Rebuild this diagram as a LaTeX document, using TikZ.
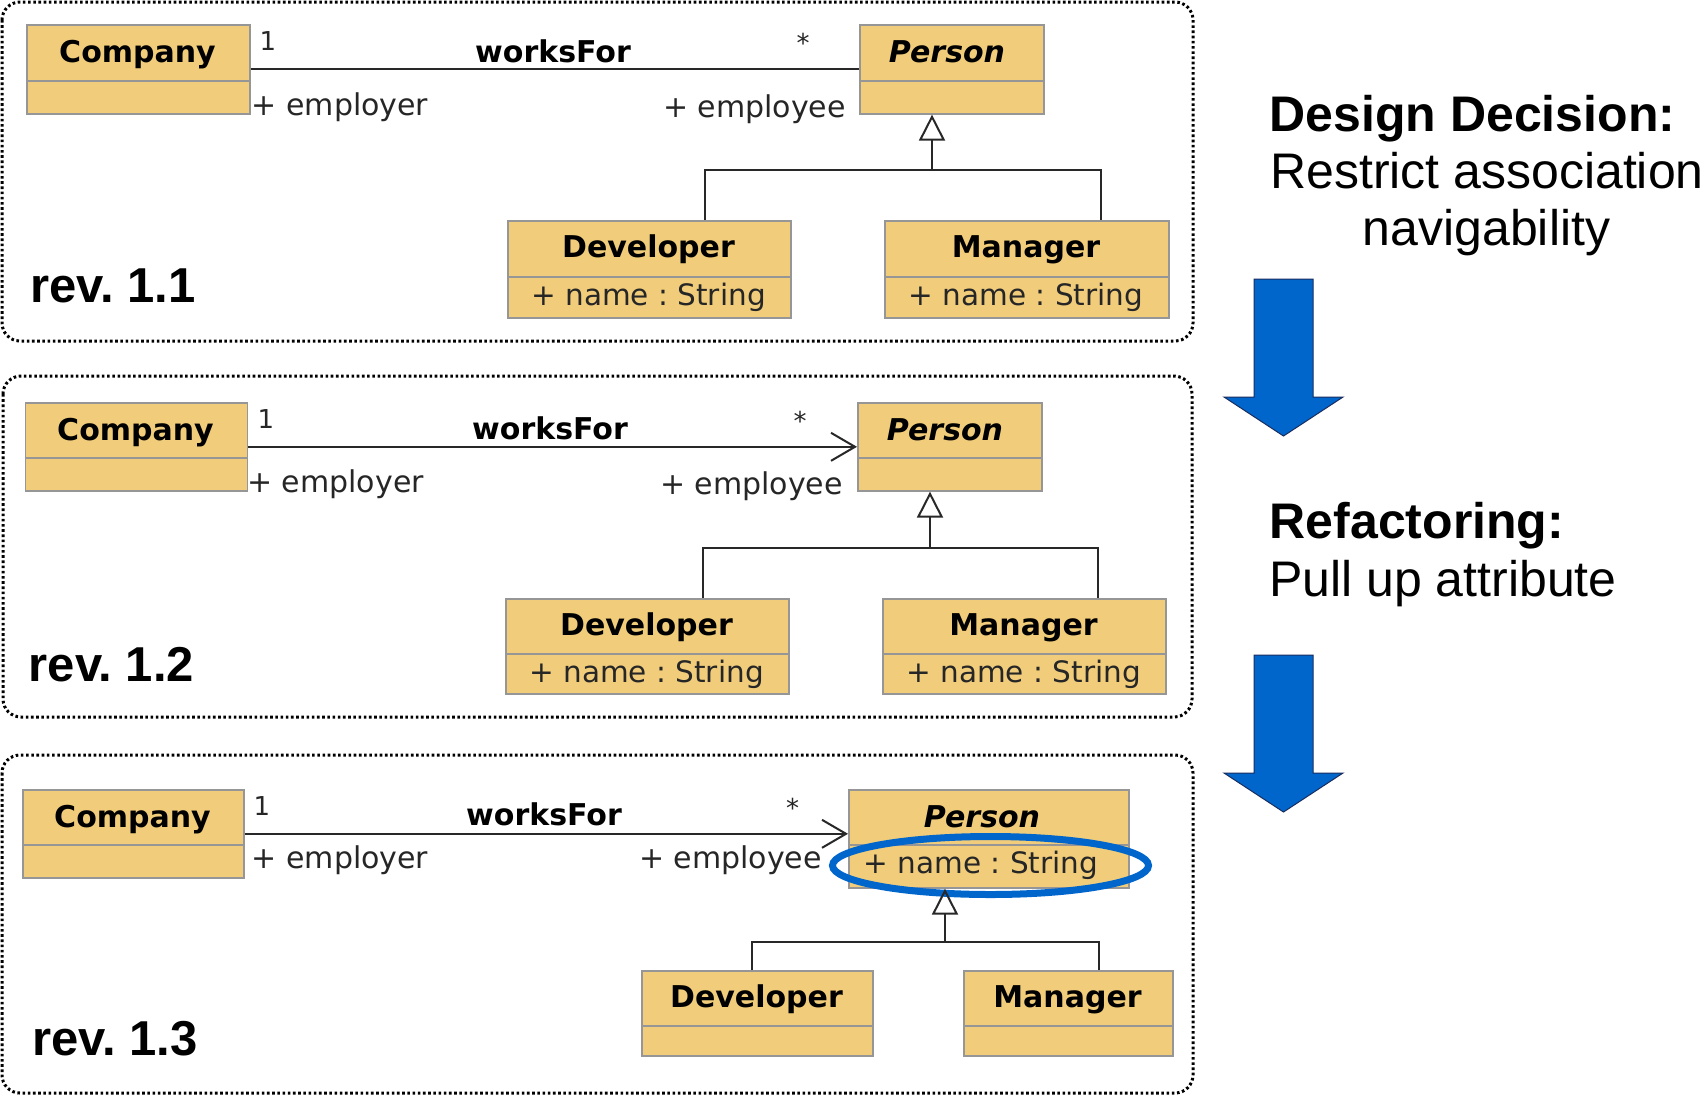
\documentclass[tikz,border=0pt]{standalone}
\usepackage{fontspec}
\setmainfont{Liberation Sans}
\newfontfamily\dvs{DejaVu Sans}
\usetikzlibrary{arrows.meta,shapes.geometric}
\definecolor{clsfill}{RGB}{240,204,123}
\definecolor{clsline}{RGB}{150,150,150}
\definecolor{umlline}{RGB}{40,40,40}
\definecolor{hlblue}{RGB}{0,102,204}
\definecolor{arrowline}{RGB}{25,45,95}
\frenchspacing
\begin{document}
\frenchspacing
\begin{tikzpicture}[x=1pt,y=-1pt,
  cls/.style={draw=clsline, fill=clsfill, line width=1.6pt, inner sep=0pt, anchor=north west},
  divider/.style={draw=clsline, line width=1.6pt},
  panel/.style={draw=black, line width=3pt, dash pattern=on 2.6pt off 2.6pt, rounded corners=18pt},
  cname/.style={anchor=base, font=\frenchspacing\dvs\bfseries\fontsize{30}{36}\selectfont, text=black, inner sep=0pt},
  pname/.style={anchor=base, font=\frenchspacing\dvs\bfseries\itshape\fontsize{30}{36}\selectfont, text=black, inner sep=0pt},
  attr/.style={anchor=base, font=\frenchspacing\dvs\fontsize{29.5}{34}\selectfont, text=black!85, inner sep=0pt},
  rolel/.style={anchor=base west, font=\frenchspacing\dvs\fontsize{30}{35}\selectfont, text=black!85, inner sep=0pt},
  roler/.style={anchor=base east, font=\frenchspacing\dvs\fontsize{30}{35}\selectfont, text=black!85, inner sep=0pt},
  mult/.style={anchor=base, font=\dvs\fontsize{26}{30}\selectfont, text=black!85, inner sep=0pt},
  assoc/.style={draw=umlline, line width=2pt},
  gen/.style={draw=umlline, line width=2pt},
  revlabel/.style={anchor=base west, font=\frenchspacing\bfseries\fontsize{49}{56}\selectfont, inner sep=0pt},
  headtxt/.style={anchor=base west, font=\frenchspacing\bfseries\fontsize{50}{57}\selectfont, inner sep=0pt},
  bodytxt/.style={anchor=base west, font=\frenchspacing\fontsize{50}{57}\selectfont, inner sep=0pt},
  bluearrow/.style={fill=hlblue, draw=arrowline, line width=1pt},
  navtip/.style={-{Straight Barb[length=24pt,width=28pt,line width=2pt]}},
  gentip/.style={-{Triangle[open,length=26pt,width=26pt,line width=2pt]}}
]
\useasboundingbox (0,0) rectangle (1702,1096);
\fill[white] (0,0) rectangle (1702,1096);

% ---------------- panel 1 ----------------
\draw[panel] (2,2) rectangle (1193,341);
\node[cls, minimum width=223pt, minimum height=89pt] (c1) at (26,24) {};
\draw[divider] (c1.west |- 0,81) -- (c1.east |- 0,81);
\node[cname] (c1t) at (137.5,62) {Company};
\node[cls, minimum width=184pt, minimum height=89pt] (p1) at (859,24) {};
\draw[divider] (p1.west |- 0,81) -- (p1.east |- 0,81);
\node[pname] (p1t) at (947,62) {Person};
\node[cls, minimum width=283pt, minimum height=97pt] (d1) at (507,220) {};
\draw[divider] (d1.west |- 0,277) -- (d1.east |- 0,277);
\node[cname] (d1t) at (648.5,257) {Developer};
\node[attr] (d1a) at (648.5,305) {+ name : String};
\node[cls, minimum width=284pt, minimum height=97pt] (m1) at (884,220) {};
\draw[divider] (m1.west |- 0,277) -- (m1.east |- 0,277);
\node[cname] (m1t) at (1026,257) {Manager};
\node[attr] (m1a) at (1026,305) {+ name : String};

\draw[assoc] (c1.east) -- (c1.east -| p1.west);
\node[mult] (c1m) at (268,50) {1};
\node[mult] (p1m) at (803,52) {*};
\node[cname] (a1) at (553,62) {worksFor};
\node[rolel] (c1r) at (251.5,115) {+ employer};
\node[roler] (p1r) at (846,117) {+ employee};

\coordinate (j1) at (932,170);
\draw[gen] (d1.north -| 705,0) |- (j1) -| (m1.north -| 1101,0);
\draw[gen,gentip] (j1) -- (j1 |- p1.south);
\node[revlabel] (r1) at (30,302) {rev. 1.1};

% ---------------- panel 2 ----------------
\draw[panel] (3,376) rectangle (1192,717);
\node[cls, minimum width=222pt, minimum height=88pt] (c2) at (24.5,402) {};
\draw[divider] (c2.west |- 0,458) -- (c2.east |- 0,458);
\node[cname] (c2t) at (135.5,440) {Company};
\node[cls, minimum width=184pt, minimum height=88pt] (p2) at (857,402) {};
\draw[divider] (p2.west |- 0,458) -- (p2.east |- 0,458);
\node[pname] (p2t) at (945,440) {Person};
\node[cls, minimum width=283pt, minimum height=95pt] (d2) at (505,598) {};
\draw[divider] (d2.west |- 0,654) -- (d2.east |- 0,654);
\node[cname] (d2t) at (646.5,635) {Developer};
\node[attr] (d2a) at (646.5,682) {+ name : String};
\node[cls, minimum width=283pt, minimum height=95pt] (m2) at (882,598) {};
\draw[divider] (m2.west |- 0,654) -- (m2.east |- 0,654);
\node[cname] (m2t) at (1023.5,635) {Manager};
\node[attr] (m2a) at (1023.5,682) {+ name : String};

\draw[assoc,navtip] (c2.east) -- (c2.east -| p2.west);
\node[mult] (c2m) at (266,428) {1};
\node[mult] (p2m) at (800,430) {*};
\node[cname] (a2) at (550,439) {worksFor};
\node[rolel] (c2r) at (247,492) {+ employer};
\node[roler] (p2r) at (843,494) {+ employee};

\coordinate (j2) at (930,548);
\draw[gen] (d2.north -| 702.5,0) |- (j2) -| (m2.north -| 1098,0);
\draw[gen,gentip] (j2) -- (j2 |- p2.south);
\node[revlabel] (r2) at (28.5,681) {rev. 1.2};

% ---------------- panel 3 ----------------
\draw[panel] (2,755) rectangle (1193,1093);
\node[cls, minimum width=221pt, minimum height=88pt] (c3) at (22,789) {};
\draw[divider] (c3.west |- 0,845) -- (c3.east |- 0,845);
\node[cname] (c3t) at (132.5,827) {Company};
\node[cls, minimum width=280pt, minimum height=98pt] (p3) at (848,789) {};
\draw[divider] (p3.west |- 0,845) -- (p3.east |- 0,845);
\node[pname] (p3t) at (982,827) {Person};
\node[attr] (p3a) at (981,873) {+ name : String};
\node[cls, minimum width=231pt, minimum height=85pt] (d3) at (641,970) {};
\draw[divider] (d3.west |- 0,1026) -- (d3.east |- 0,1026);
\node[cname] (d3t) at (756.5,1007) {Developer};
\node[cls, minimum width=209pt, minimum height=85pt] (m3) at (963,970) {};
\draw[divider] (m3.west |- 0,1026) -- (m3.east |- 0,1026);
\node[cname] (m3t) at (1067.5,1007) {Manager};

\draw[assoc,navtip] (c3.east) -- (c3.east -| p3.west);
\node[mult] (c3m) at (262,815) {1};
\node[mult] (p3m) at (792.5,817) {*};
\node[cname] (a3) at (544,825) {worksFor};
\node[rolel] (c3r) at (251.5,868) {+ employer};
\node[roler] (p3r) at (822,868) {+ employee};

\node[draw=hlblue, line width=7pt, ellipse, inner sep=0pt, minimum width=316pt, minimum height=58pt] (hl) at (990.5,865.5) {};

\coordinate (j3) at (945,942);
\draw[gen] (d3.north -| 752,0) |- (j3) -| (m3.north -| 1099,0);
\draw[gen,gentip] (j3) -- (j3 |- p3.south);
\node[revlabel] (r3) at (32,1055) {rev. 1.3};

% ---------------- right side ----------------
\node[headtxt] (dd) at (1269.5,131) {Design Decision:};
\node[bodytxt] (dd2) at (1270,188) {Restrict association};
\node[bodytxt, anchor=base] (dd3) at (1486.5,245) {navigability};
\draw[bluearrow] (1254,279) -- (1313,279) -- (1313,397) -- (1343,397) -- (1283.5,436) -- (1224,397) -- (1254,397) -- cycle;
\node[headtxt] (rf) at (1269.5,538) {Refactoring:};
\node[bodytxt] (rf2) at (1269,596) {Pull up attribute};
\draw[bluearrow] (1254,655) -- (1313,655) -- (1313,773) -- (1343,773) -- (1283.5,812) -- (1224,773) -- (1254,773) -- cycle;
\end{tikzpicture}
\end{document}
